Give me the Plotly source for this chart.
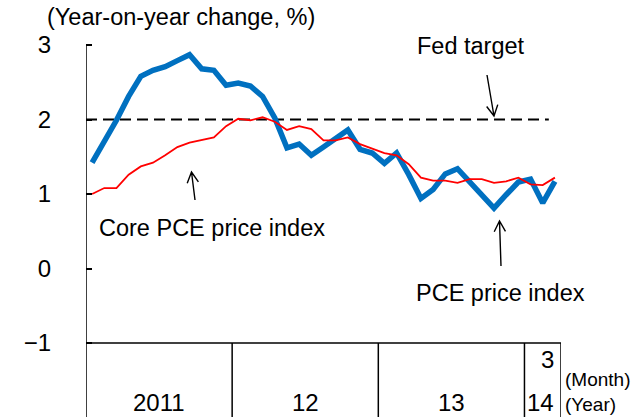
import math
import plotly.graph_objects as go

# ---------------- data ----------------
years = ["2011", "12", "13", "14"]
months_per_year = [12, 12, 12, 3]
last_month_label = "3"
y_ticks = [-1, 0, 1, 2, 3]

# PCE price index, year-on-year % (Jan 2011 - Mar 2014)
pce = [1.42, 1.70, 1.99, 2.31, 2.58, 2.66, 2.71, 2.79, 2.87, 2.68, 2.66, 2.46,
       2.49, 2.45, 2.31, 2.02, 1.62, 1.67, 1.52, 1.63, 1.75, 1.86, 1.60, 1.55,
       1.41, 1.55, 1.26, 0.94, 1.06, 1.27, 1.34, 1.17, 0.98, 0.81, 0.99, 1.16,
       1.20, 0.88, 1.17]
# Core PCE price index
core_pce = [1.00, 1.08, 1.08, 1.26, 1.37, 1.42, 1.52, 1.63, 1.69, 1.73, 1.76, 1.91,
            2.01, 1.99, 2.03, 1.97, 1.86, 1.91, 1.87, 1.72, 1.72, 1.76, 1.67, 1.61,
            1.55, 1.52, 1.40, 1.22, 1.18, 1.18, 1.15, 1.20, 1.20, 1.15, 1.17, 1.22,
            1.13, 1.12, 1.22]
fed_target = 2.0

# ---------------- layout geometry ----------------
W, H = 638, 417
PL, PR = 86, 561           # plot area left/right in px
Y3_PX, YM1_PX = 45, 343    # pixel rows of y=3 and y=-1
n = sum(months_per_year)
ppm = (PR - PL) / n
ppu = (YM1_PX - Y3_PX) / 4.0
y_top = 3 + Y3_PX / ppu
y_bot = -1 - (H - YM1_PX) / ppu

def px2x(px):
    return (px - PL) / ppm - 0.5

def py2y(py):
    return 3 - (py - Y3_PX) / ppu

def pxp(px):
    return (px - PL) / (PR - PL)

def pyp(py):
    return (H - py) / H

FONT = "Liberation Sans, Arial, sans-serif"
x = list(range(n))

fig = go.Figure()
fig.add_trace(go.Scatter(x=[-0.5, n - 1.5], y=[fed_target, fed_target], mode="lines",
                         line=dict(color="black", width=2, dash="11px,6px"),
                         hoverinfo="skip", showlegend=False))
fig.add_trace(go.Scatter(x=x, y=pce, mode="lines", name="PCE price index",
                         line=dict(color="#0070C0", width=5.5), showlegend=False))
fig.add_trace(go.Scatter(x=x, y=core_pce, mode="lines", name="Core PCE price index",
                         line=dict(color="#FF0000", width=1.8), showlegend=False))

shapes = []
line_style = dict(color="black", width=1.5)
shapes.append(dict(type="line", xref="x", yref="y", x0=-0.5, x1=-0.5, y0=y_bot, y1=3, line=line_style))
shapes.append(dict(type="line", xref="x", yref="y", x0=-0.5, x1=n - 0.5, y0=-1, y1=-1, line=line_style))

annotations = []
big = dict(family=FONT, size=24, color="black")
start = 0
for yr, m in zip(years, months_per_year):
    end = start + m
    shapes.append(dict(type="line", xref="x", yref="y", x0=end - 0.5, x1=end - 0.5,
                       y0=y_bot, y1=-1, line=line_style))
    if m == 12:
        cx = PL + ppm * (start + end) / 2
        annotations.append(dict(xref="paper", yref="paper", x=pxp(cx), y=pyp(402), text=yr,
                                showarrow=False, xanchor="center", yanchor="middle", font=big))
    else:
        annotations.append(dict(xref="paper", yref="paper", x=pxp(556), y=pyp(402), text=yr,
                                showarrow=False, xanchor="right", yanchor="middle", font=big))
        annotations.append(dict(xref="paper", yref="paper", x=pxp(556), y=pyp(359),
                                text=last_month_label, showarrow=False,
                                xanchor="right", yanchor="middle", font=big))
    start = end


def arrow(tail, tip, head=12, ang=28):
    tx, ty = tail
    hx, hy = tip
    a = math.atan2(ty - hy, tx - hx)
    pts = []
    for s in (-1, 1):
        b = a + s * math.radians(ang)
        pts.append((hx + head * math.cos(b), hy + head * math.sin(b)))
    path = (f"M{px2x(tx)},{py2y(ty)} L{px2x(hx)},{py2y(hy)} "
            f"M{px2x(pts[0][0])},{py2y(pts[0][1])} L{px2x(hx)},{py2y(hy)} "
            f"L{px2x(pts[1][0])},{py2y(pts[1][1])}")
    return dict(type="path", xref="x", yref="y", path=path, line=dict(color="black", width=1.4))

shapes.append(arrow((487, 75), (494, 116)))
shapes.append(arrow((195, 200), (191.5, 172)))
shapes.append(arrow((501, 266), (499.5, 221)))

txt = dict(family=FONT, size=23.5, color="black")
small = dict(family=FONT, size=19, color="black")
def pa(px, py, text, anchor, font):
    return dict(xref="paper", yref="paper", x=pxp(px), y=pyp(py), text=text, showarrow=False,
                xanchor=anchor, yanchor="middle", font=font)

annotations += [
    pa(45, 17, "(Year-on-year change, %)", "left", txt),
    pa(471, 46, "Fed target", "center", txt),
    pa(212, 228, "Core PCE price index", "center", txt),
    pa(500, 293, "PCE price index", "center", txt),
    pa(563, 379, "(Month)", "left", small),
    pa(563, 404, "(Year)", "left", small),
]

fig.update_layout(
    width=W, height=H,
    margin=dict(l=PL, r=W - PR, t=0, b=0, pad=0),
    paper_bgcolor="white", plot_bgcolor="white",
    showlegend=False,
    shapes=shapes,
    annotations=annotations,
    xaxis=dict(range=[-0.5, n - 0.5], showticklabels=False, showgrid=False,
               zeroline=False, showline=False, ticks=""),
    yaxis=dict(range=[y_bot, y_top], tickvals=y_ticks,
               ticktext=[("\u2212" + str(-v)) if v < 0 else str(v) for v in y_ticks],
               ticks="inside", ticklen=6, tickwidth=1.5, tickcolor="black",
               showgrid=False, zeroline=False, showline=False,
               tickfont=dict(family=FONT, size=24, color="black"),
               ticklabelstandoff=34),
)

fig.write_html("out.html", config={"displayModeBar": False},
               post_script="document.body.style.margin='0';document.body.style.padding='0';")
